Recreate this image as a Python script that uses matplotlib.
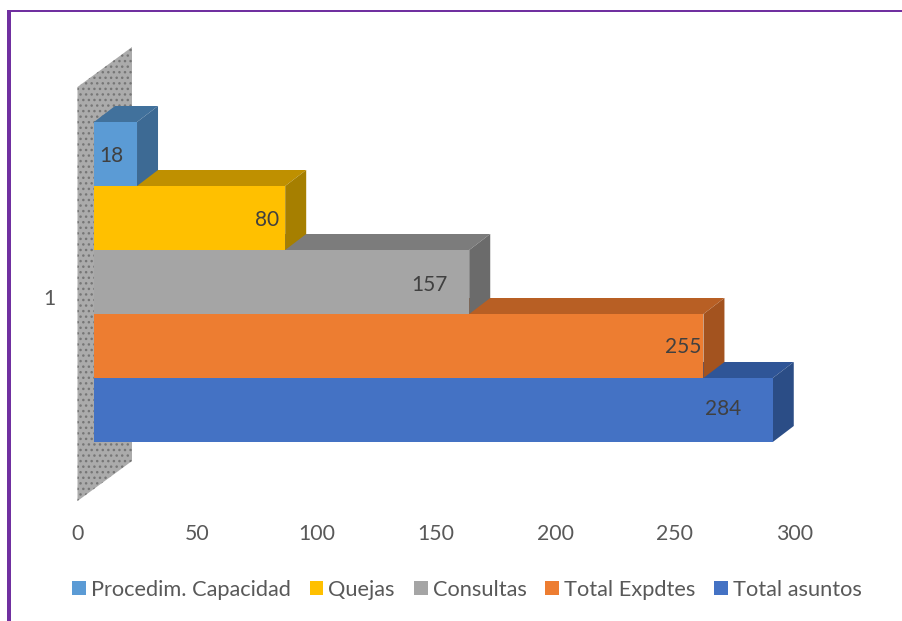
import matplotlib
matplotlib.use("Agg")
import matplotlib.pyplot as plt
from matplotlib.patches import Polygon, Patch, Rectangle

series_names = ["Total asuntos", "Total Expdtes", "Consultas", "Quejas", "Procedim. Capacidad"]
series_values = [284, 255, 157, 80, 18]
x_ticks = [0, 50, 100, 150, 200, 250, 300]
category_label = "1"

face_colors = ["#4472c4", "#ed7d31", "#a5a5a5", "#ffc000", "#5b9bd5"]
top_colors = ["#2f5597", "#b85f24", "#7c7c7c", "#bf9000", "#41719c"]
side_colors = ["#2b4d86", "#a3531f", "#6b6b6b", "#a67f00", "#3d6a94"]
label_shift_px = [(-50, 1), (-20, -1), (-40, -3), (-18, -2), (-26, -2)]

plt.rcParams["font.family"] = ["Lato", "DejaVu Sans"]
W, H = 903, 621
fig = plt.figure(figsize=(W / 100, H / 100), dpi=100, facecolor="white")

# axes geometry in pixels
left, right, top, bottom = 77.5, 794.5, 30, 515
ax = fig.add_axes([left / W, 1 - bottom / H, (right - left) / W, (bottom - top) / H])
px_per_x = (right - left) / 300
px_per_y = 64.0
ax.set_xlim(0, 300)
ax.set_ylim(-(bottom - 410) / px_per_y, (410 - top) / px_per_y)

base = 16.5 / px_per_x
dx = 21 / px_per_x
dy = 16 / px_per_y

# back wall
wall_w = 54.5 / px_per_x
wall_y0 = (410 - 501) / px_per_y
wall_y1 = (410 - 87) / px_per_y
wall_rise = 40 / px_per_y
ax.add_patch(Polygon([(0, wall_y0), (wall_w, wall_y0 + wall_rise),
                      (wall_w, wall_y1 + wall_rise), (0, wall_y1)],
                     closed=True, facecolor="#ababab", edgecolor="#767676",
                     hatch="...", linewidth=0, zorder=1))

# bars, lowest first so each upper bar covers the top face of the one below
n = len(series_values)
for i in range(n):
    v = series_values[i]
    z = 2 + i
    y0, y1 = i - 0.5, i + 0.5
    xe = base + v
    ax.add_patch(Polygon([(base, y1), (xe, y1), (xe + dx, y1 + dy), (base + dx, y1 + dy)],
                         closed=True, facecolor=top_colors[i], edgecolor="none", zorder=z))
    ax.add_patch(Polygon([(xe, y0), (xe + dx, y0 + dy), (xe + dx, y1 + dy), (xe, y1)],
                         closed=True, facecolor=side_colors[i], edgecolor="none", zorder=z))
    ax.barh(i, v, left=base, height=1.0, color=face_colors[i], linewidth=0, zorder=z + 0.5)
    ax.annotate(str(v), (xe, i), xytext=label_shift_px[i], textcoords="offset pixels",
                ha="center", va="center", fontsize=15, color="#404040", zorder=20)

ax.set_xlim(0, 300)
ax.set_xticks(x_ticks)
ax.set_yticks([1.77], [category_label])
ax.tick_params(axis="both", length=0, labelsize=15.3, labelcolor="#595959")
ax.tick_params(axis="x", pad=6.5)
ax.tick_params(axis="y", pad=16)
for s in ax.spines.values():
    s.set_visible(False)
ax.patch.set_visible(False)

# legend
handles = [Patch(facecolor=face_colors[i], label=series_names[i]) for i in range(n - 1, -1, -1)]
leg = fig.legend(handles=handles, loc="center", bbox_to_anchor=(467 / W, 1 - 589.5 / H),
                 ncol=5, frameon=False, fontsize=15.7, handlelength=0.64, handleheight=0.64,
                 handletextpad=0.22, columnspacing=0.87, labelcolor="#595959", borderpad=0)

# purple frame
purple = "#7030a0"
fig.add_artist(Rectangle((7 / W, 0), 4 / W, 1 - 10 / H, transform=fig.transFigure,
                         facecolor=purple, edgecolor="none"))
fig.add_artist(Rectangle((7 / W, 1 - 12 / H), 1 - 7 / W, 2 / H, transform=fig.transFigure,
                         facecolor=purple, edgecolor="none"))

fig.savefig("out.png", dpi=100, facecolor="white")
